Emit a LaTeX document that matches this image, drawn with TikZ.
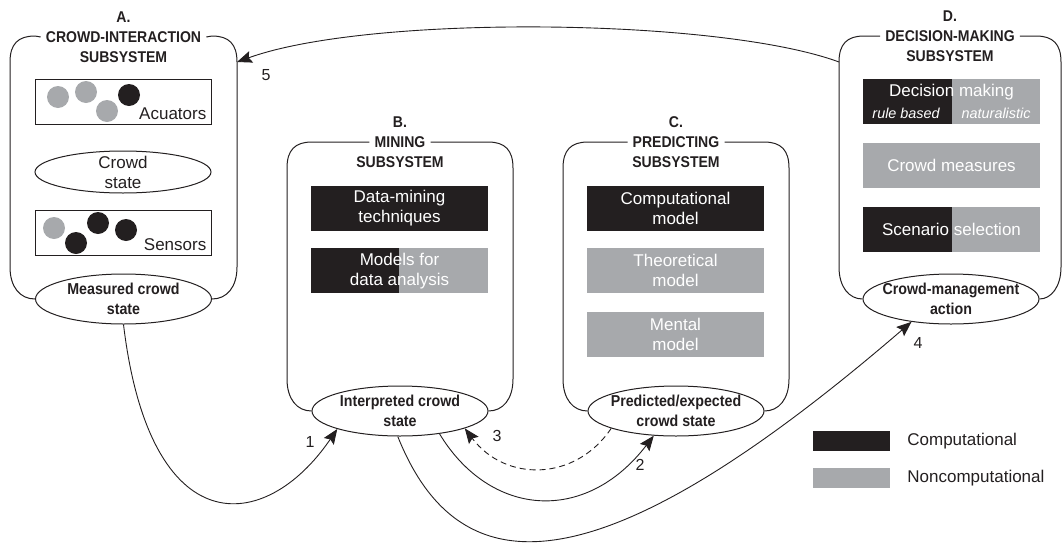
\documentclass[tikz,border=0pt]{standalone}
\usepackage{fontspec}
\setmainfont{Liberation Sans}
\newfontfamily\narrowfont[FakeStretch=0.9]{Liberation Sans}
\usetikzlibrary{arrows.meta}
\usetikzlibrary{positioning}
\usetikzlibrary{shapes.geometric}
\definecolor{cdark}{HTML}{231F20}
\definecolor{cgray}{HTML}{A7A9AC}
\tikzset{frame/.style = {draw=cdark, line width=1pt}}
\tikzset{title/.style = {font=\narrowfont\fontsize{15.6}{17}\selectfont\bfseries, text=cdark,
                         inner sep=0, text height=11pt, text depth=0pt}}
\tikzset{titlemid/.style = {title, inner xsep=5pt}}
\tikzset{state/.style = {ellipse, draw=cdark, line width=1pt, fill=white,
                         minimum width=176pt, minimum height=50pt,
                         inner xsep=-12pt, inner ysep=-4pt, align=center, text=cdark,
                         font=\narrowfont\fontsize{15.8}{20}\selectfont\bfseries}}
\tikzset{compbox/.style = {fill=cdark, text=white, minimum width=177pt, minimum height=45pt,
                           inner sep=0, align=center, font=\fontsize{17}{20}\selectfont}}
\tikzset{ncompbox/.style = {compbox, fill=cgray}}
\tikzset{halfbox/.style = {compbox, fill=cgray,
                           path picture={\fill[cdark] (path picture bounding box.south west)
                             rectangle ([xshift=#1]path picture bounding box.north west);}}}
\tikzset{plainbox/.style = {draw=cdark, line width=1pt, minimum width=176pt,
                            minimum height=45pt, inner sep=0}}
\tikzset{flow/.style = {draw=cdark, line width=0.9pt, -{Stealth[length=15pt, width=12pt, inset=2.5pt]}}}
\tikzset{num/.style = {text=cdark, inner sep=0, font=\fontsize{16}{18}\selectfont}}
\tikzset{legtxt/.style = {text=cdark, inner sep=0, anchor=west, font=\fontsize{17}{20}\selectfont}}

\begin{document}
\begin{tikzpicture}[x=1pt, y=-1pt]
  \useasboundingbox (0,0) rectangle (1063,544);

  % A. crowd interaction
  \node[titlemid] (tA) at (123.5,37) {CROWD-INTERACTION};
  \node[title, above=9pt of tA] (tA0) {A.};
  \node[title, below=9pt of tA] (tA2) {SUBSYSTEM};
  \node[state] (meas) at (123.5,299) {Measured crowd\\state};
  \draw[frame] (tA.west) -- (35,36) .. controls (18,36) and (10,44) .. (10,62) -- (10,267)
    .. controls (10,287) and (20,299) .. (meas.west);
  \draw[frame] (tA.east) -- (212,36) .. controls (229,36) and (237,44) .. (237,62) coordinate (acorner)
    -- (237,267) .. controls (237,287) and (227,299) .. (meas.east);

  \node[plainbox] (acu) at (123,101.5) {};
  \fill[cgray] (58,97) circle [radius=11];
  \fill[cgray] (86,92) circle [radius=11];
  \fill[cgray] (107,111) circle [radius=11];
  \fill[cdark] (129,95) circle [radius=11];
  \node[legtxt, anchor=south east, inner sep=5pt] (acut) at (acu.south east) {Acuators};

  \node[state, font=\fontsize{17}{20}\selectfont, minimum height=42pt] (cstate) at (123,172) {Crowd\\state};

  \node[plainbox] (sens) at (123,233) {};
  \fill[cgray] (54,228) circle [radius=11];
  \fill[cdark] (76,243) circle [radius=11];
  \fill[cdark] (98,223) circle [radius=11];
  \fill[cdark] (126,230) circle [radius=11];
  \node[legtxt, anchor=south east, inner sep=5pt] (senst) at (sens.south east) {Sensors};

  % B. mining
  \node[titlemid] (tB) at (400,142) {MINING};
  \node[title, above=9pt of tB] (tB0) {B.};
  \node[title, below=9pt of tB] (tB2) {SUBSYSTEM};
  \node[state] (interp) at (400,411) {Interpreted crowd\\state};
  \draw[frame] (tB.west) -- (312,142) .. controls (295,142) and (287,150) .. (287,168) -- (287,379)
    .. controls (287,399) and (297,411) .. (interp.west);
  \draw[frame] (tB.east) -- (488,142) .. controls (505,142) and (513,150) .. (513,168) -- (513,379)
    .. controls (513,399) and (503,411) .. (interp.east);
  \node[compbox] (mine) at (399.5,208.5) {Data-mining\\techniques};
  \node[halfbox=88pt, below=17pt of mine] (models) {Models for\\data analysis};

  % C. predicting
  \node[titlemid] (tC) at (676,142) {PREDICTING};
  \node[title, above=9pt of tC] (tC0) {C.};
  \node[title, below=9pt of tC] (tC2) {SUBSYSTEM};
  \node[state] (pred) at (676,411) {Predicted/expected\\crowd state};
  \draw[frame] (tC.west) -- (588,142) .. controls (571,142) and (563,150) .. (563,168) -- (563,379)
    .. controls (563,399) and (573,411) .. (pred.west);
  \draw[frame] (tC.east) -- (764,142) .. controls (781,142) and (789,150) .. (789,168) -- (789,379)
    .. controls (789,399) and (779,411) .. (pred.east);
  \node[compbox] (compmod) at (675.5,208.5) {Computational\\model};
  \node[ncompbox, below=17pt of compmod] (theo) {Theoretical\\model};
  \node[ncompbox, below=18pt of theo] (mental) {Mental\\model};

  % D. decision making
  \node[titlemid] (tD) at (950,36) {DECISION-MAKING};
  \node[title, above=9pt of tD] (tD0) {D.};
  \node[title, below=9pt of tD] (tD2) {SUBSYSTEM};
  \node[state] (act) at (951,299) {Crowd-management\\action};
  \draw[frame] (tD.west) -- (864,36) .. controls (847,36) and (839,44) .. (839,62) coordinate (dcorner)
    -- (839,267) .. controls (839,287) and (849,299) .. (act.west);
  \draw[frame] (tD.east) -- (1036,36) .. controls (1053,36) and (1061,44) .. (1061,62) -- (1061,267)
    .. controls (1061,287) and (1051,299) .. (act.east);
  \node[halfbox=89pt] (decis) at (951.5,101.5)
    {Decision making\\[2pt]{\fontsize{14.4}{17}\selectfont\itshape rule based\hspace{22pt}naturalistic}};
  \node[ncompbox, below=19pt of decis] (cmeas) {Crowd measures};
  \node[halfbox=89pt, below=18pt of cmeas] (scen) {Scenario selection};

  % flows
  \draw[flow] (dcorner) .. controls (720,18) and (370,14) .. (acorner);
  \draw[flow] (meas.south) .. controls (150,545) and (265,535) .. (interp.196);
  \draw[flow] (interp.330) .. controls (490,517) and (585,525) .. (pred.228);
  \draw[flow, dash pattern=on 6pt off 4pt] (pred.195) .. controls (575,482) and (505,482) .. (interp.345);
  \draw[flow] (interp.265) .. controls (460,592) and (600,590) .. (act.210);

  \node[num] (n1) at (310,442) {1};
  \node[num] (n2) at (640,465) {2};
  \node[num] (n3) at (497,436) {3};
  \node[num] (n4) at (918,343) {4};
  \node[num] (n5) at (266,75) {5};

  % legend
  \node[compbox, minimum width=77pt, minimum height=20pt] (legc) at (851.5,441) {};
  \node[legtxt, right=17pt of legc] (legct) {Computational};
  \node[ncompbox, minimum width=77pt, minimum height=20pt] (legn) at (851.5,478) {};
  \node[legtxt, right=17pt of legn] (legnt) {Noncomputational};
\end{tikzpicture}
\end{document}
